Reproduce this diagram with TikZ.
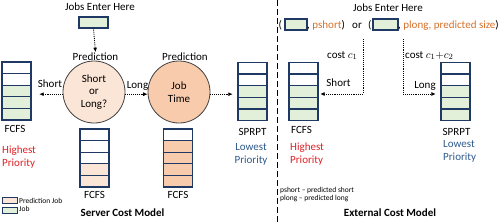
\documentclass[tikz,border=0pt]{standalone}
\usepackage{fontspec}
\setmainfont{Carlito}
\usetikzlibrary{arrows.meta,calc}
\definecolor{navy}{RGB}{32,56,100}
\definecolor{jgreen}{RGB}{226,240,217}
\definecolor{lpeach}{RGB}{251,229,214}
\definecolor{peach}{RGB}{248,203,173}
\definecolor{hired}{RGB}{222,32,36}
\definecolor{lowblue}{RGB}{46,90,140}
\definecolor{orng}{RGB}{214,112,42}
\definecolor{cgray}{RGB}{64,64,64}
\newcommand{\jqueue}[5]{%
  \pgfmathtruncatemacro\lastw{#4-1}%
  \foreach \i in {0,...,\lastw}{\draw[cell,fill=white] (#2,#3+\i*11.6) rectangle ++(29,11.6);}%
  \foreach \i in {#4,...,4}{\draw[cell,fill=#5] (#2,#3+\i*11.6) rectangle ++(29,11.6);}%
  \node[qnode] (#1) at (#2+14.5,#3+29) {};%
}
\begin{document}
\begin{tikzpicture}[x=1pt,y=-1pt,
  font=\fontsize{11}{13}\selectfont,
  cell/.style={draw=navy,line width=1.3pt},
  qnode/.style={inner sep=0pt,minimum width=29pt,minimum height=58pt},
  jobbox/.style={draw=navy,line width=1.1pt,fill=jgreen,inner sep=0pt},
  circ/.style={circle,draw=cgray,line width=0.8pt,minimum size=62pt,inner sep=0pt,align=center,font=\fontsize{11}{12.5}\selectfont},
  conn/.style={densely dotted,line width=0.9pt,-{Latex[length=4.5pt,width=4pt]}},
  txt/.style={anchor=base,inner sep=0pt},
  txtw/.style={anchor=base west,inner sep=0pt},
  small/.style={anchor=base west,inner sep=0pt,font=\fontsize{7.5}{9}\selectfont},
  divider/.style={line width=1pt,dash pattern=on 6pt off 3pt}
]
\useasboundingbox (0,0) rectangle (500,223);

% ---------------- Server Cost Model ----------------
\node[txt] (jeh1) at (100,10.7) {Jobs Enter Here};
\node[jobbox,minimum width=29pt,minimum height=11pt] (jin) at (93.5,22.5) {};
\node[txt] (p1) at (95.5,60) {Prediction};
\node[txt] (p2) at (185,60) {Prediction};
\node[circ,fill=lpeach] (c1) at (94,92) {Short\\or\\Long?};
\node[circ,fill=peach] (c2) at (179,92) {Job\\Time};

\jqueue{q1}{2}{62}{2}{jgreen}
\jqueue{q2}{80}{129}{3}{lpeach}
\jqueue{q3}{163.5}{129}{1}{peach}
\jqueue{q4}{238}{62.5}{2}{jgreen}

\draw[conn] (jin.south) -- (p1.north);
\draw[conn,shorten >=8pt] (c1.184) -- (c1.184 -| q1.east);
\draw[conn] (c1.356) -- (c2.184);
\draw[conn,shorten >=5pt] (c2.356) -- (c2.356 -| q4.west);

\node[txt] (lshort) at (50,87) {Short};
\node[txt] (llong) at (137.5,88) {Long};

\node[txt] (f1) at (15,132) {FCFS};
\node[txtw,text=hired] (hp1) at (2,153) {Highest};
\node[txtw,text=hired] (hp2) at (2,166) {Priority};
\node[txt] (f2) at (94.5,198) {FCFS};
\node[txt] (f3) at (178,198) {FCFS};
\node[txt] (sp1) at (252.5,135) {SPRPT};
\node[txt,text=lowblue] (lp1) at (251,150) {Lowest};
\node[txt,text=lowblue] (lp2) at (251,163) {Priority};

\node[draw=navy,line width=1pt,fill=lpeach,minimum width=15pt,minimum height=6pt,inner sep=0pt] (lg1) at (9.5,200) {};
\node[draw=navy,line width=1pt,fill=jgreen,minimum width=15pt,minimum height=6pt,inner sep=0pt] (lg2) at (9.5,210) {};
\node[small] (lgt1) at (19,203) {Prediction Job};
\node[small] (lgt2) at (19,211.5) {Job};

\node[txt,font=\fontsize{11}{13}\selectfont\bfseries] (scm) at (122.5,216) {Server Cost Model};

% divider
\draw[divider] (277,0) -- (277,223);

% ---------------- External Cost Model ----------------
\node[txt] (jeh2) at (388,11) {Jobs Enter Here};
\node[txtw] (o1) at (278.5,28) {(};
\node[jobbox,minimum width=22pt,minimum height=11pt] (r1) at (296,24.5) {};
\node[txtw] (t1) at (307,28) {, \textcolor{orng}{pshort})};
\node[txtw] (or) at (352,28) {or};
\node[txtw] (o2) at (368,28) {(};
\node[jobbox,minimum width=25pt,minimum height=11pt] (r2) at (385.5,24.5) {};
\node[txtw] (t2) at (398,28) {, \textcolor{orng}{plong, predicted size})};

\coordinate (s1) at (363,39);
\coordinate (s2) at (403,39);

\jqueue{q5}{289}{62.5}{2}{jgreen}
\jqueue{q6}{441}{62.5}{2}{jgreen}

\draw[conn] (s1) |- ([xshift=2pt,yshift=-2.5pt]q5.east);
\draw[conn] (s2) |- ([xshift=-5pt,yshift=-2.5pt]q6.west);

\node[txtw] (cc1) at (327,58) {cost $c_1$};
\node[txtw] (cc2) at (405,58) {cost $c_1{+}c_2$};
\node[txt] (rshort) at (338.5,86) {Short};
\node[txt] (rlong) at (425,88) {Long};

\node[txt] (f5) at (301.5,133) {FCFS};
\node[txtw,text=hired] (hp3) at (290,150) {Highest};
\node[txtw,text=hired] (hp4) at (290,163) {Priority};
\node[txt] (sp2) at (456.5,135) {SPRPT};
\node[txtw,text=lowblue] (lp3) at (443,147) {Lowest};
\node[txtw,text=lowblue] (lp4) at (443,160) {Priority};

\node[small] (lgt3) at (280,192) {pshort -- predicted short};
\node[small] (lgt4) at (280,200) {plong -- predicted long};

\node[txt,font=\fontsize{11}{13}\selectfont\bfseries] (ecm) at (390,216) {External Cost Model};
\end{tikzpicture}
\end{document}
